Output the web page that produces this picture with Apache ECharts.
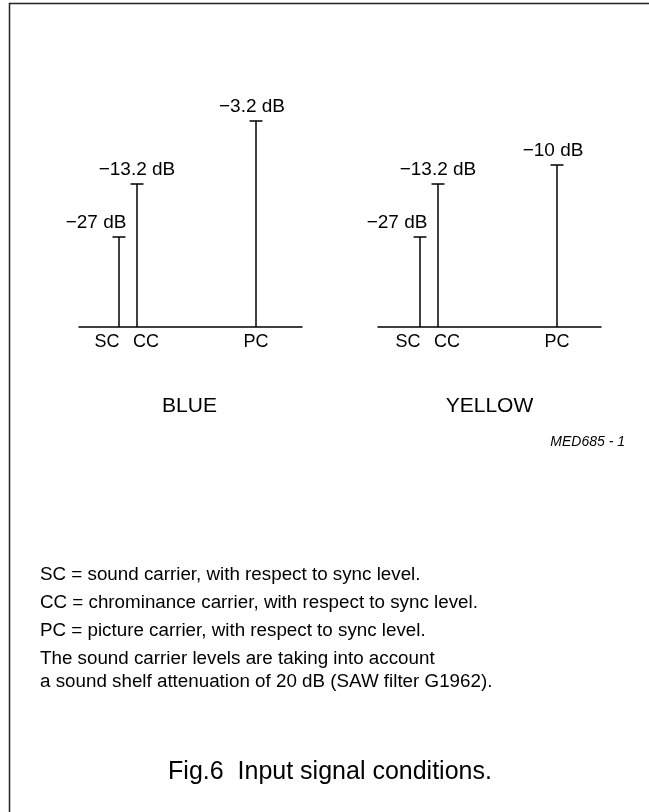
<!DOCTYPE html>
<html>
<head>
<meta charset="utf-8">
<script src="https://cdn.jsdelivr.net/npm/echarts@6/dist/echarts.min.js"></script>
<style>
  html, body { margin: 0; padding: 0; background: #fff; }
  #chart { width: 649px; height: 812px; }
</style>
</head>
<body>
<div id="chart"></div>
<script>
// ---- data ----
const carriers = ['SC', 'CC', 'PC'];
// carrier position along the (schematic) frequency axis, arbitrary units
const bluePos = [40, 58, 177];
const yellowPos = [42, 60, 179];
// drawn level of each carrier above the sync baseline, arbitrary units
const blueLevel = [90, 143, 206];
const yellowLevel = [90, 143, 162];
// level annotations (dB)
const blueDb = [-27, -13.2, -3.2];
const yellowDb = [-27, -13.2, -10];
const panelTitles = ['BLUE', 'YELLOW'];
const notes = [
  'SC = sound carrier, with respect to sync level.',
  'CC = chrominance carrier, with respect to sync level.',
  'PC = picture carrier, with respect to sync level.',
  'The sound carrier levels are taking into account',
  'a sound shelf attenuation of 20 dB (SAW filter G1962).'
];
const figCode = 'MED685 - 1';
const caption = 'Fig.6  Input signal conditions.';

// ---- styling ----
const FONT = '"Liberation Sans", Arial, Helvetica, sans-serif';
const INK = '#000';
const valueLabelDx = [-23, 0, -4];   // horizontal shift of dB labels per carrier
const nameLabelDx = [-12, 9, 0];     // horizontal shift of carrier names per carrier

function fmtDb(v) {
  return (v < 0 ? '\u2212' : '') + Math.abs(v) + ' dB';
}

function renderCarrier(params, api) {
  const i = params.dataIndex;
  const x = api.value(0), lvl = api.value(1), db = api.value(2);
  const base = api.coord([x, 0]);
  const top = api.coord([x, lvl]);
  return {
    type: 'group',
    children: [
      { type: 'line', shape: { x1: base[0], y1: base[1], x2: top[0], y2: top[1] },
        style: { stroke: INK, lineWidth: 1.5 } },
      { type: 'line', shape: { x1: top[0] - 6.5, y1: top[1], x2: top[0] + 6.5, y2: top[1] },
        style: { stroke: INK, lineWidth: 1.5 } },
      { type: 'text', style: { text: fmtDb(db), x: top[0] + valueLabelDx[i], y: top[1] - 14,
        textAlign: 'center', textVerticalAlign: 'middle', fill: INK,
        fontFamily: FONT, fontSize: 19 } },
      { type: 'text', style: { text: carriers[i], x: base[0] + nameLabelDx[i], y: base[1] + 15,
        textAlign: 'center', textVerticalAlign: 'middle', fill: INK,
        fontFamily: FONT, fontSize: 18 } }
    ]
  };
}

function seriesData(pos, lvl, db) {
  return pos.map((p, i) => [p, lvl[i], db[i]]);
}

const chart = echarts.init(document.getElementById('chart'), null, { renderer: 'canvas' });

const axisX = (gi) => ({
  type: 'value', gridIndex: gi, min: 0, max: 223,
  axisLine: { show: true, onZero: false, lineStyle: { color: INK, width: 1.5 } },
  axisTick: { show: false }, axisLabel: { show: false }, splitLine: { show: false }
});
const axisY = (gi) => ({
  type: 'value', gridIndex: gi, min: 0, max: 220,
  show: false, splitLine: { show: false }
});

const graphics = [
  // frame
  { type: 'line', shape: { x1: 9, y1: 3.5, x2: 649, y2: 3.5 }, style: { stroke: '#222', lineWidth: 1.5 } },
  { type: 'line', shape: { x1: 9.5, y1: 3, x2: 9.5, y2: 812 }, style: { stroke: '#222', lineWidth: 1.5 } },
  // panel titles
  { type: 'text', style: { text: panelTitles[0], x: 189.5, y: 406, textAlign: 'center', textVerticalAlign: 'middle',
    fill: INK, fontFamily: FONT, fontSize: 21 } },
  { type: 'text', style: { text: panelTitles[1], x: 489.5, y: 406, textAlign: 'center', textVerticalAlign: 'middle',
    fill: INK, fontFamily: FONT, fontSize: 21 } },
  // figure code
  { type: 'text', style: { text: figCode, x: 625, y: 442, textAlign: 'right', textVerticalAlign: 'middle',
    fill: INK, fontFamily: FONT, fontSize: 14, fontStyle: 'italic' } },
  // caption
  { type: 'text', style: { text: caption, x: 330, y: 772, textAlign: 'center', textVerticalAlign: 'middle',
    fill: INK, fontFamily: FONT, fontSize: 25 } }
];
const noteY = [575, 603, 631, 659, 682];
notes.forEach((t, i) => {
  graphics.push({ type: 'text', style: { text: t, x: 40, y: noteY[i], textAlign: 'left', textVerticalAlign: 'middle',
    fill: INK, fontFamily: FONT, fontSize: 18.8 } });
});

chart.setOption({
  animation: false,
  backgroundColor: '#fff',
  grid: [
    { left: 79, width: 223, top: 107, height: 220 },
    { left: 378, width: 223, top: 107, height: 220 }
  ],
  xAxis: [axisX(0), axisX(1)],
  yAxis: [axisY(0), axisY(1)],
  series: [
    { type: 'custom', name: panelTitles[0], xAxisIndex: 0, yAxisIndex: 0, renderItem: renderCarrier,
      data: seriesData(bluePos, blueLevel, blueDb), clip: false },
    { type: 'custom', name: panelTitles[1], xAxisIndex: 1, yAxisIndex: 1, renderItem: renderCarrier,
      data: seriesData(yellowPos, yellowLevel, yellowDb), clip: false }
  ],
  graphic: graphics
});
</script>
</body>
</html>
